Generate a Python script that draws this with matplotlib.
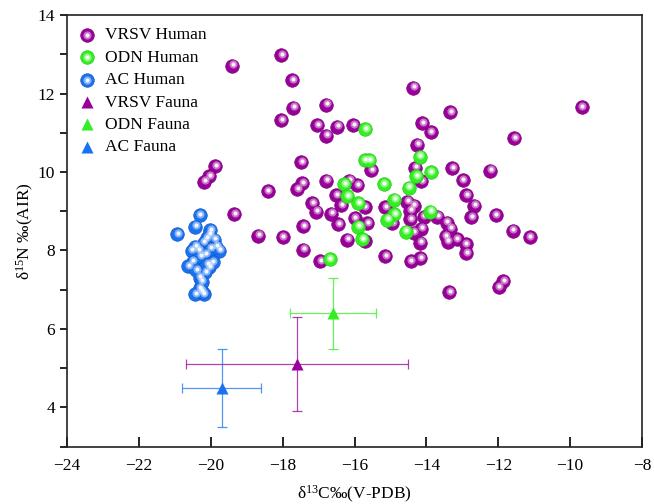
import matplotlib
matplotlib.use("Agg")
import matplotlib.pyplot as plt
import matplotlib.transforms as mtransforms
from matplotlib.legend_handler import HandlerTuple
from matplotlib.ticker import MultipleLocator

plt.rcParams['font.family'] = ['Liberation Serif', 'DejaVu Serif']
plt.rcParams['mathtext.default'] = 'regular'
plt.rcParams['font.size'] = 12.5

# human samples (d13C, d15N)
vrsv_x = [-18.04, -17.74, -17.70, -18.04, -16.79, -17.03, -16.79, -16.48, -16.04, -14.37,
          -13.33, -14.12, -13.88, -14.26, -9.68, -11.55, -17.48, -15.53, -14.31, -13.28,
          -12.22, -17.45, -17.59, -18.42, -16.78, -16.14, -15.93, -14.15, -12.99, -12.89,
          -12.68, -12.75, -12.07, -16.51, -16.38, -17.18, -17.06, -16.65, -15.72, -16.00,
          -15.65, -16.46, -17.43, -15.14, -14.54, -14.35, -14.46, -14.46, -14.08, -13.70,
          -13.44, -13.33, -14.96, -14.15, -14.35, -13.46, -13.41, -13.16, -12.91, -12.89,
          -14.17, -11.60, -11.13, -18.69, -18.00, -17.43, -16.20, -15.72, -16.96, -15.14,
          -14.44, -14.17, -13.36, -11.87, -11.99, -19.41, -19.34, -19.88, -20.04, -20.18]
vrsv_y = [12.98, 12.34, 11.64, 11.32, 11.71, 11.19, 10.92, 11.15, 11.20, 12.15,
          11.53, 11.25, 11.01, 10.70, 11.65, 10.86, 10.25, 10.05, 10.11, 10.10,
          10.03, 9.71, 9.56, 9.51, 9.78, 9.78, 9.66, 9.77, 9.79, 9.41,
          9.14, 8.85, 8.90, 9.41, 9.16, 9.20, 8.99, 8.94, 9.11, 8.83,
          8.69, 8.67, 8.62, 9.11, 9.24, 9.14, 9.01, 8.80, 8.86, 8.86,
          8.71, 8.56, 8.69, 8.56, 8.45, 8.37, 8.22, 8.29, 8.16, 7.93,
          8.20, 8.50, 8.34, 8.38, 8.34, 8.02, 8.27, 8.24, 7.72, 7.86,
          7.73, 7.80, 6.93, 7.21, 7.06, 12.71, 8.92, 10.15, 9.90, 9.75]

odn_x = [-15.70, -15.72, -15.59, -14.19, -13.88, -14.29, -14.49, -15.19, -16.28, -16.20,
         -15.90, -14.89, -14.89, -15.09, -13.89, -14.58, -15.89, -15.78, -16.69]
odn_y = [11.09, 10.30, 10.30, 10.39, 9.99, 9.90, 9.60, 9.69, 9.69, 9.39,
         9.20, 9.29, 8.92, 8.78, 8.99, 8.48, 8.61, 8.28, 7.78]

ac_x = [-20.31, -20.93, -20.43, -20.02, -20.11, -19.91, -19.76, -20.43, -20.53, -20.16,
        -20.50, -20.62, -20.04, -20.31, -20.31, -20.43, -20.20, -20.20, -20.00, -20.30,
        -19.95, -20.40, -20.15, -20.25, -20.05, -20.35, -19.85, -20.10, -20.25]
ac_y = [8.90, 8.41, 8.61, 8.52, 8.31, 8.27, 7.99, 8.10, 7.99, 7.91,
        7.71, 7.60, 7.57, 7.31, 7.04, 6.88, 6.88, 8.20, 8.05, 7.85,
        7.70, 7.50, 7.45, 7.20, 8.40, 8.00, 8.10, 7.65, 6.95]

# fauna means with SD
fauna_x = [-17.6, -16.6, -19.7]
fauna_y = [5.1, 6.4, 4.5]
fauna_xerr = [3.1, 1.2, 1.1]
fauna_yerr = [1.2, 0.9, 1.0]

groups = ['VRSV', 'ODN', 'AC']
colors = ['#990099', '#33ee22', '#1a72f0']
rims = ['#7a007a', '#28c818', '#1258c8']
highlights = ['#e8c0e8', '#c8ffc0', '#c8dcff']

fig = plt.figure(figsize=(6.54, 5.04), dpi=100)
ax = fig.add_axes([0.1024, 0.1137, 0.8793, 0.8565])

hi_trans = mtransforms.offset_copy(ax.transData, fig=fig, x=0.5, y=1.0, units='points')
human_handles = []
for (xs, ys), c, rim, hi in zip([(vrsv_x, vrsv_y), (odn_x, odn_y), (ac_x, ac_y)],
                                 colors, rims, highlights):
    base = ax.scatter(xs, ys, s=95, color=c, edgecolors=rim, linewidths=0.5, zorder=3)
    mid = ax.scatter(xs, ys, s=34, color=hi, alpha=0.6, linewidths=0,
                     transform=hi_trans, zorder=3)
    top = ax.scatter(xs, ys, s=9, color='white', alpha=0.9, linewidths=0,
                     transform=hi_trans, zorder=3)
    human_handles.append((base, mid, top))

fauna_handles = []
for i, c in enumerate(colors):
    ax.errorbar(fauna_x[i], fauna_y[i], xerr=fauna_xerr[i], yerr=fauna_yerr[i],
                fmt='none', ecolor=c, elinewidth=0.9, capsize=3.5, capthick=0.9, alpha=0.75, zorder=2)
    h = ax.scatter(fauna_x[i], fauna_y[i], marker='^', s=75, color=c, linewidths=0, zorder=4)
    fauna_handles.append(h)

ax.set_xlim(-24, -8)
ax.set_ylim(3, 14)
ax.xaxis.set_major_locator(MultipleLocator(2))
ax.yaxis.set_major_locator(MultipleLocator(2))
ax.yaxis.set_minor_locator(MultipleLocator(1))
ax.tick_params(axis='x', direction='in', length=7, width=1.2, pad=8)
ax.tick_params(axis='y', which='both', direction='out', length=5, width=1.2)
for sp in ax.spines.values():
    sp.set_linewidth(1.2)
    sp.set_color('#222222')

ax.set_xlabel('δ$^{13}$C‰(V-PDB)', labelpad=7)
ax.set_ylabel('δ$^{15}$N ‰(AIR)', labelpad=1)

labels = ['VRSV Human', 'ODN Human', 'AC Human', 'VRSV Fauna', 'ODN Fauna', 'AC Fauna']
ax.legend(human_handles + fauna_handles, labels, loc='upper left', frameon=False,
          handler_map={tuple: HandlerTuple(ndivide=1)}, fontsize=12.5,
          labelspacing=0.36, handletextpad=0.45, handlelength=1.2,
          borderaxespad=0.0, bbox_to_anchor=(0.005, 0.988))

fig.savefig('out.png', dpi=100)
